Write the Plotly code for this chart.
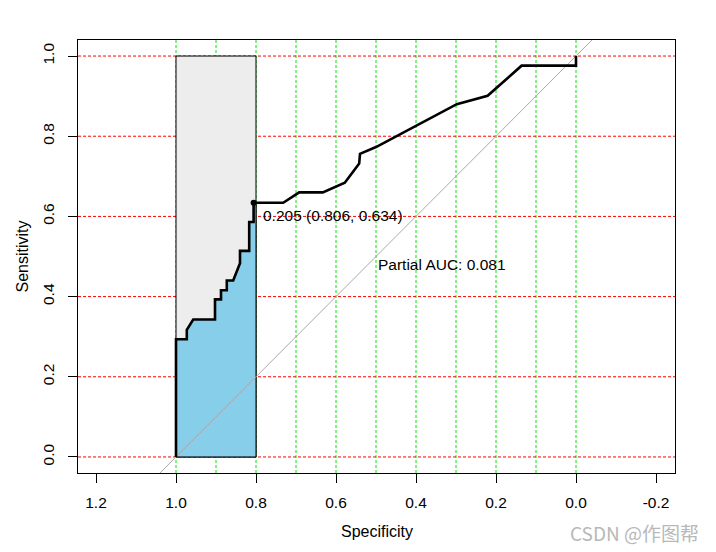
import numpy as np
import plotly.graph_objects as go

# ---- data ----
roc_specificity = [1.0, 1.0, 0.973, 0.973, 0.957, 0.9025, 0.9025, 0.8875, 0.8875, 0.873, 0.873,
                   0.857, 0.84, 0.84, 0.817, 0.817, 0.806, 0.806, 0.732, 0.692, 0.633, 0.578,
                   0.542, 0.54, 0.50, 0.298, 0.221, 0.136, 0.0, 0.0]
roc_sensitivity = [0.0, 0.2935, 0.2935, 0.317, 0.343, 0.343, 0.393, 0.393, 0.416, 0.416, 0.44,
                   0.44, 0.483, 0.514, 0.514, 0.586, 0.586, 0.634, 0.634, 0.66, 0.66, 0.684,
                   0.732, 0.756, 0.773, 0.880, 0.901, 0.976, 0.976, 1.0]

best_threshold = 0.205
best_point = (0.806, 0.634)
partial_auc = 0.081
partial_range = (1.0, 0.8)

x_tick_values = [1.2, 1.0, 0.8, 0.6, 0.4, 0.2, 0.0, -0.2]
x_tick_labels = ["1.2", "1.0", "0.8", "0.6", "0.4", "0.2", "0.0", "-0.2"]
y_tick_values = [0.0, 0.2, 0.4, 0.6, 0.8, 1.0]
y_tick_labels = ["0.0", "0.2", "0.4", "0.6", "0.8", "1.0"]
x_grid_values = [round(v * 0.1, 1) for v in range(0, 11)]
y_grid_values = [0.0, 0.2, 0.4, 0.6, 0.8, 1.0]

x_range = [1.245, -0.2475]
y_range = [-0.04, 1.04]

FONT = "Liberation Sans, Arial, sans-serif"

fig = go.Figure()

# grid lines (below everything)
shapes = []
for gx in x_grid_values:
    shapes.append(dict(type="line", xref="x", yref="y domain", x0=gx, x1=gx, y0=0, y1=1,
                       line=dict(color="#00E600", width=1, dash="3px,2px"), layer="below"))
for gy in y_grid_values:
    shapes.append(dict(type="line", xref="x domain", yref="y", x0=0, x1=1, y0=gy, y1=gy,
                       line=dict(color="#FF0000", width=1, dash="3px,2px"), layer="below"))
# partial AUC focus rectangle
hi, lo = partial_range
shapes.append(dict(type="rect", xref="x", yref="y", x0=hi, x1=lo, y0=0, y1=1,
                   fillcolor="#EDEDED", line=dict(color="black", width=1), layer="below"))

# blue polygon under the curve within the partial range
spec = np.array(roc_specificity)
sens = np.array(roc_sensitivity)
mask = spec >= lo
idx = np.where(spec < lo)[0][0]
s0, s1 = spec[idx - 1], spec[idx]
v0, v1 = sens[idx - 1], sens[idx]
v_at_lo = v0 + (v1 - v0) * (s0 - lo) / (s0 - s1)
poly_x = [hi] + list(spec[mask]) + [lo, lo, hi]
poly_y = [0.0] + list(sens[mask]) + [v_at_lo, 0.0, 0.0]
fig.add_trace(go.Scatter(x=poly_x, y=poly_y, mode="lines", fill="toself",
                         fillcolor="#87CEEB", line=dict(color="black", width=1),
                         hoverinfo="skip", showlegend=False))

# identity line
diag_x = [x_range[0] + 0.5, x_range[1] - 0.5]
diag_y = [1 - v for v in diag_x]
fig.add_trace(go.Scatter(x=diag_x, y=diag_y, mode="lines",
                         line=dict(color="#A9A9A9", width=1), hoverinfo="skip", showlegend=False))

# ROC curve
fig.add_trace(go.Scatter(x=roc_specificity, y=roc_sensitivity, mode="lines",
                         line=dict(color="black", width=2.6), showlegend=False))

# best threshold point
fig.add_trace(go.Scatter(x=[best_point[0]], y=[best_point[1]], mode="markers",
                         marker=dict(color="black", size=6), showlegend=False))

annotations = [
    dict(x=best_point[0] - 0.0185, y=best_point[1] - 0.0305, xref="x", yref="y",
         text=f"{best_threshold:.3f} ({best_point[0]:.3f}, {best_point[1]:.3f})",
         showarrow=False, xanchor="left", yanchor="middle",
         font=dict(family=FONT, size=15.5, color="black")),
    dict(x=0.334, y=0.479, xref="x", yref="y", text=f"Partial AUC: {partial_auc:.3f}",
         showarrow=False, xanchor="center", yanchor="middle",
         font=dict(family=FONT, size=15.5, color="black")),
    dict(x=0.5, y=0, xref="x domain", yref="y domain", text="Specificity",
         showarrow=False, xanchor="center", yanchor="middle", yshift=-58,
         font=dict(family=FONT, size=16, color="black")),
    dict(x=0, y=0.5, xref="x domain", yref="y domain", text="Sensitivity",
         showarrow=False, xanchor="center", yanchor="middle", xshift=-56, textangle=-90,
         font=dict(family=FONT, size=16, color="black")),
    dict(x=1, y=0, xref="x domain", yref="y domain", text="CSDN @作图帮",
         showarrow=False, xanchor="right", yanchor="middle", xshift=26, yshift=-59,
         font=dict(family="Noto Sans CJK SC, sans-serif", size=19, color="#B8B8B8")),
]

# the page body adds an 8px offset, so margins are shifted accordingly
fig.update_layout(
    width=716, height=552,
    margin=dict(l=70, r=49, t=32, b=87),
    paper_bgcolor="white", plot_bgcolor="white",
    shapes=shapes, annotations=annotations, showlegend=False,
    font=dict(family=FONT, size=15.5, color="black"),
)
fig.update_xaxes(range=x_range, tickvals=x_tick_values, ticktext=x_tick_labels,
                 showgrid=False, zeroline=False, showline=True, mirror=True,
                 linecolor="black", linewidth=1, ticks="outside", ticklen=9,
                 tickcolor="black", ticklabelstandoff=6,
                 tickfont=dict(family=FONT, size=15.5, color="black"))
fig.update_yaxes(range=y_range, tickvals=y_tick_values, ticktext=y_tick_labels,
                 showgrid=False, zeroline=False, showline=True, mirror=True,
                 linecolor="black", linewidth=1, ticks="outside", ticklen=9,
                 tickcolor="black", tickangle=-90, ticklabelstandoff=8,
                 tickfont=dict(family=FONT, size=15.5, color="black"))

fig.write_html("out.html")
